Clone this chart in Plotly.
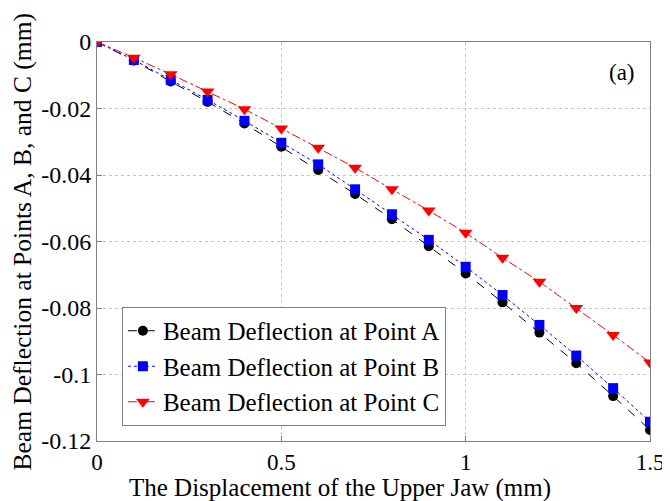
import plotly.graph_objects as go

x_disp = [0, 0.1, 0.2, 0.3, 0.4, 0.5, 0.6, 0.7, 0.8, 0.9, 1.0, 1.1, 1.2, 1.3, 1.4, 1.5]
defl_a = [0, -0.0056, -0.0119, -0.0180, -0.0245, -0.0315, -0.0385, -0.0457, -0.0533, -0.0614, -0.0696, -0.0783, -0.0874, -0.0966, -0.1065, -0.1167]
defl_b = [0, -0.0054, -0.0114, -0.0174, -0.0237, -0.0303, -0.0368, -0.0443, -0.0518, -0.0595, -0.0676, -0.0761, -0.0851, -0.0943, -0.1041, -0.1142]
defl_c = [0, -0.0047, -0.0097, -0.0149, -0.0202, -0.0260, -0.0318, -0.0378, -0.0443, -0.0507, -0.0574, -0.0649, -0.0721, -0.0800, -0.0881, -0.0964]

names = ["Beam Deflection at Point A", "Beam Deflection at Point B", "Beam Deflection at Point C"]
x_ticks = [0, 0.5, 1, 1.5]
x_ticktext = ["0", "0.5", "1", "1.5"]
y_ticks = [0, -0.02, -0.04, -0.06, -0.08, -0.1, -0.12]
y_ticktext = ["0", "-0.02", "-0.04", "-0.06", "-0.08", "-0.1", "-0.12"]
x_title = "The Displacement of the Upper Jaw (mm)"
y_title = "Beam Deflection at Points A, B, and C (mm)"

FONT = "Liberation Serif"

fig = go.Figure()
fig.add_trace(go.Scatter(x=x_disp, y=defl_a, name=names[0], mode="lines+markers",
                         line=dict(color="black", width=1, dash="dash"),
                         marker=dict(symbol="circle", size=10, color="black")))
fig.add_trace(go.Scatter(x=x_disp, y=defl_b, name=names[1], mode="lines+markers",
                         line=dict(color="blue", width=1, dash="dot"),
                         marker=dict(symbol="square", size=10, color="blue")))
fig.add_trace(go.Scatter(x=x_disp, y=defl_c, name=names[2], mode="lines+markers",
                         line=dict(color="red", width=1, dash="dashdot"),
                         marker=dict(symbol="triangle-down", size=12, color="red")))

axis_common = dict(showgrid=True, gridcolor="#c4c4c4", griddash="dot", gridwidth=1,
                   showline=True, linecolor="#808080", linewidth=1, mirror=True,
                   ticks="inside", ticklen=5, tickcolor="#808080", zeroline=False,
                   automargin=False)

fig.update_layout(
    width=670, height=501,
    margin=dict(l=89, r=28, t=34, b=68),
    paper_bgcolor="white", plot_bgcolor="white",
    font=dict(family=FONT, color="black"),
    xaxis=dict(range=[0, 1.5], tickvals=x_ticks, ticktext=x_ticktext,
               tickfont=dict(family=FONT, size=23, color="black"), **axis_common),
    yaxis=dict(range=[-0.12, 0], tickvals=y_ticks, ticktext=y_ticktext,
               tickfont=dict(family=FONT, size=24, color="black"), **axis_common),
    legend=dict(x=0.045, y=0.0376, xanchor="left", yanchor="bottom",
                bgcolor="white", bordercolor="#808080", borderwidth=1,
                font=dict(family=FONT, size=25, color="black"),
                tracegroupgap=0, itemwidth=30),
    annotations=[
        dict(x=1.424, y=-0.0093, xref="x", yref="y", text="(a)", showarrow=False,
             font=dict(family=FONT, size=23, color="black")),
        dict(x=0.44, y=-0.119, xref="paper", yref="paper", text=x_title, showarrow=False,
             xanchor="center", yanchor="middle", font=dict(family=FONT, size=25, color="black")),
        dict(x=-0.1356, y=0.5, xref="paper", yref="paper", text=y_title, showarrow=False,
             textangle=-90, xanchor="center", yanchor="middle",
             font=dict(family=FONT, size=25.5, color="black")),
    ],
)

fig.write_html("out.html")
